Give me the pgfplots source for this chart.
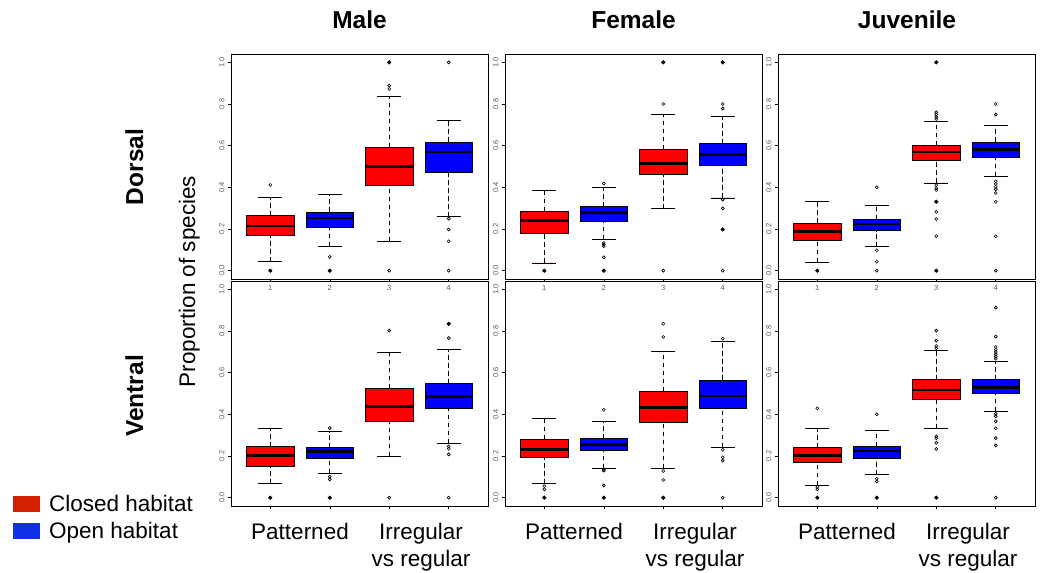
\documentclass[border=0pt]{standalone}
\usepackage{pgfplots}
\pgfplotsset{compat=1.18}
\usepgfplotslibrary{statistics}
\usepackage{fontspec}
\setmainfont{Liberation Sans}

\definecolor{legred}{RGB}{210,32,0}
\definecolor{legblue}{RGB}{16,48,232}
\definecolor{tickgray}{RGB}{90,90,90}

% one box: position, colour, lower whisker, Q1, median, Q3, upper whisker, outliers
\newcommand{\bx}[8]{%
  \addplot[boxplot prepared={draw position=#1, lower whisker=#3,
      lower quartile=#4, median=#5, upper quartile=#6, upper whisker=#7},
    fill=#2, draw=black, line width=0.7pt,
    mark=o, mark size=1.5pt, mark options={solid, draw=black, line width=0.6pt}]
    table[row sep=\\, y index=0] {#8};
}
\newcommand{\heavy}[1]{%
  \addplot[only marks, mark=*, mark size=1.8pt, black] coordinates {#1};
}

\pgfplotsset{
  panel/.style={
    scale only axis, width=257pt, height=225pt, anchor=north west,
    xmin=0.34, xmax=4.66, ymin=-0.04, ymax=1.04,
    xtick={1,2,3,4},
    ytick={0,0.2,0.4,0.6,0.8,1},
    yticklabels={0.0,0.2,0.4,0.6,0.8,1.0},
    tick pos=left, tick align=outside, major tick length=3pt,
    tick style={black, line width=0.5pt},
    axis line style={line width=0.8pt},
    ticklabel style={font=\fontsize{7.5}{8}\selectfont, text=tickgray},
    yticklabel style={rotate=90, anchor=south},
    clip=false,
    boxplot/draw direction=y,
    boxplot/box extend=0.8,
    boxplot/whisker extend=0.4,
    boxplot/every median/.style={line width=2.8pt},
    boxplot/draw/lower whisker/.code={
      \draw[dash pattern=on 4.5pt off 3.5pt]
        (boxplot box cs:\pgfplotsboxplotvalue{lower whisker},0.5) --
        (boxplot box cs:\pgfplotsboxplotvalue{lower quartile},0.5);
      \draw[line width=0.9pt] (boxplot whisker cs:\pgfplotsboxplotvalue{lower whisker},0) --
        (boxplot whisker cs:\pgfplotsboxplotvalue{lower whisker},1);
    },
    boxplot/draw/upper whisker/.code={
      \draw[dash pattern=on 4.5pt off 3.5pt]
        (boxplot box cs:\pgfplotsboxplotvalue{upper quartile},0.5) --
        (boxplot box cs:\pgfplotsboxplotvalue{upper whisker},0.5);
      \draw[line width=0.9pt] (boxplot whisker cs:\pgfplotsboxplotvalue{upper whisker},0) --
        (boxplot whisker cs:\pgfplotsboxplotvalue{upper whisker},1);
    },
  },
  toprow/.style={panel, xticklabels={1,2,3,4}},
  bottomrow/.style={panel, xticklabels={}},
}

\begin{document}
\begin{tikzpicture}
\path[use as bounding box] (0,0) rectangle (1042pt,-573pt);

% ---- Male, dorsal
\begin{axis}[toprow, at={(231pt,-54pt)}]
\bx{1}{red}{0.043}{0.168}{0.214}{0.264}{0.352}{v\\0.411\\0\\}
\bx{2}{blue}{0.118}{0.210}{0.253}{0.282}{0.366}{v\\0.066\\0\\}
\bx{3}{red}{0.141}{0.408}{0.499}{0.592}{0.834}{v\\1.0\\0.888\\0.872\\0\\}
\bx{4}{blue}{0.259}{0.472}{0.570}{0.618}{0.720}{v\\1.0\\0.25\\0.198\\0.141\\0\\}
\heavy{(1,0)(2,0)(3,1)}
\end{axis}

% ---- Female, dorsal
\begin{axis}[toprow, at={(505pt,-54pt)}]
\bx{1}{red}{0.037}{0.181}{0.242}{0.285}{0.386}{v\\0\\}
\bx{2}{blue}{0.152}{0.237}{0.280}{0.307}{0.400}{v\\0.418\\0.133\\0.125\\0.117\\0.064\\0\\}
\bx{3}{red}{0.298}{0.462}{0.514}{0.582}{0.749}{v\\1.0\\0.8\\0\\}
\bx{4}{blue}{0.349}{0.506}{0.557}{0.610}{0.738}{v\\1.0\\0.8\\0.778\\0.341\\0.299\\0.198\\0\\}
\heavy{(1,0)(2,0)(3,1)(4,1)(4,0.198)}
\end{axis}

% ---- Juvenile, dorsal
\begin{axis}[toprow, at={(778pt,-54pt)}]
\bx{1}{red}{0.040}{0.147}{0.187}{0.229}{0.331}{v\\0\\}
\bx{2}{blue}{0.114}{0.192}{0.224}{0.246}{0.314}{v\\0.4\\0.098\\0.043\\0\\}
\bx{3}{red}{0.421}{0.531}{0.570}{0.603}{0.714}{v\\1.0\\0.760\\0.749\\0.738\\0.728\\0.410\\0.397\\0.387\\0.331\\0.283\\0.248\\0.165\\0\\}
\bx{4}{blue}{0.453}{0.546}{0.581}{0.618}{0.698}{v\\0.8\\0.749\\0.429\\0.416\\0.403\\0.390\\0.373\\0.331\\0.165\\0\\}
\heavy{(1,0)(3,1)(3,0)(3,0.331)}
\end{axis}

% ---- Male, ventral
\begin{axis}[bottomrow, at={(231pt,-281pt)}]
\bx{1}{red}{0.066}{0.152}{0.202}{0.245}{0.334}{v\\0\\}
\bx{2}{blue}{0.117}{0.189}{0.221}{0.240}{0.317}{v\\0.334\\0.101\\0.088\\0\\}
\bx{3}{red}{0.200}{0.365}{0.438}{0.526}{0.698}{v\\0.802\\0\\}
\bx{4}{blue}{0.262}{0.429}{0.485}{0.547}{0.712}{v\\0.835\\0.766\\0.246\\0.235\\0.208\\0\\}
\heavy{(1,0)(2,0)(4,0.835)}
\end{axis}

% ---- Female, ventral
\begin{axis}[bottomrow, at={(505pt,-281pt)}]
\bx{1}{red}{0.067}{0.194}{0.232}{0.280}{0.379}{v\\0.056\\0.04\\0\\}
\bx{2}{blue}{0.142}{0.226}{0.256}{0.283}{0.365}{v\\0.422\\0.134\\0.130\\0.059\\0\\}
\bx{3}{red}{0.142}{0.360}{0.434}{0.510}{0.701}{v\\0.835\\0.771\\0.128\\0.085\\0\\}
\bx{4}{blue}{0.243}{0.430}{0.488}{0.565}{0.752}{v\\0.763\\0.230\\0.194\\0.178\\0\\}
\heavy{(1,0)(2,0)(3,0)}
\end{axis}

% ---- Juvenile, ventral
\begin{axis}[bottomrow, at={(778pt,-281pt)}]
\bx{1}{red}{0.059}{0.168}{0.203}{0.240}{0.334}{v\\0.429\\0.051\\0.040\\0\\}
\bx{2}{blue}{0.110}{0.190}{0.224}{0.246}{0.322}{v\\0.4\\0.091\\0.078\\0\\}
\bx{3}{red}{0.333}{0.470}{0.517}{0.566}{0.707}{v\\0.802\\0.754\\0.728\\0.717\\0.294\\0.285\\0.264\\0.234\\0\\}
\bx{4}{blue}{0.414}{0.501}{0.530}{0.566}{0.653}{v\\0.912\\0.773\\0.723\\0.710\\0.699\\0.688\\0.677\\0.667\\0.402\\0.390\\0.366\\0.333\\0.286\\0.251\\0\\}
\heavy{(1,0)(2,0)(3,0)}
\end{axis}

% ---- titles and labels
\begin{scope}[every node/.style={font=\fontsize{24.5}{28}\selectfont\bfseries}]
\node at (359.5pt,-20pt) {Male};
\node at (633.5pt,-20pt) {Female};
\node at (907pt,-20pt) {Juvenile};
\node[rotate=90, anchor=base] at (143pt,-167pt) {Dorsal};
\node[rotate=90, anchor=base] at (143pt,-396pt) {Ventral};
\end{scope}
\node[rotate=90, anchor=base, font=\fontsize{22.5}{27}\selectfont] at (195pt,-281.5pt) {Proportion of species};

\begin{scope}[every node/.style={font=\fontsize{22.5}{27}\selectfont, anchor=base}]
\foreach \L in {231,505,778} {
  \node at (\L pt+69pt,-539pt) {Patterned};
  \node at (\L pt+190pt,-539pt) {Irregular};
  \node at (\L pt+190pt,-566.7pt) {vs regular};
}
\end{scope}

% ---- legend
\fill[legred] (13pt,-495.7pt) rectangle (40pt,-511.7pt);
\fill[legblue] (13pt,-522.7pt) rectangle (40pt,-539pt);
\node[anchor=base west, inner sep=0pt, font=\fontsize{22.5}{27}\selectfont] at (49pt,-511pt) {Closed habitat};
\node[anchor=base west, inner sep=0pt, font=\fontsize{22.5}{27}\selectfont] at (49pt,-538.3pt) {Open habitat};
\end{tikzpicture}
\end{document}
